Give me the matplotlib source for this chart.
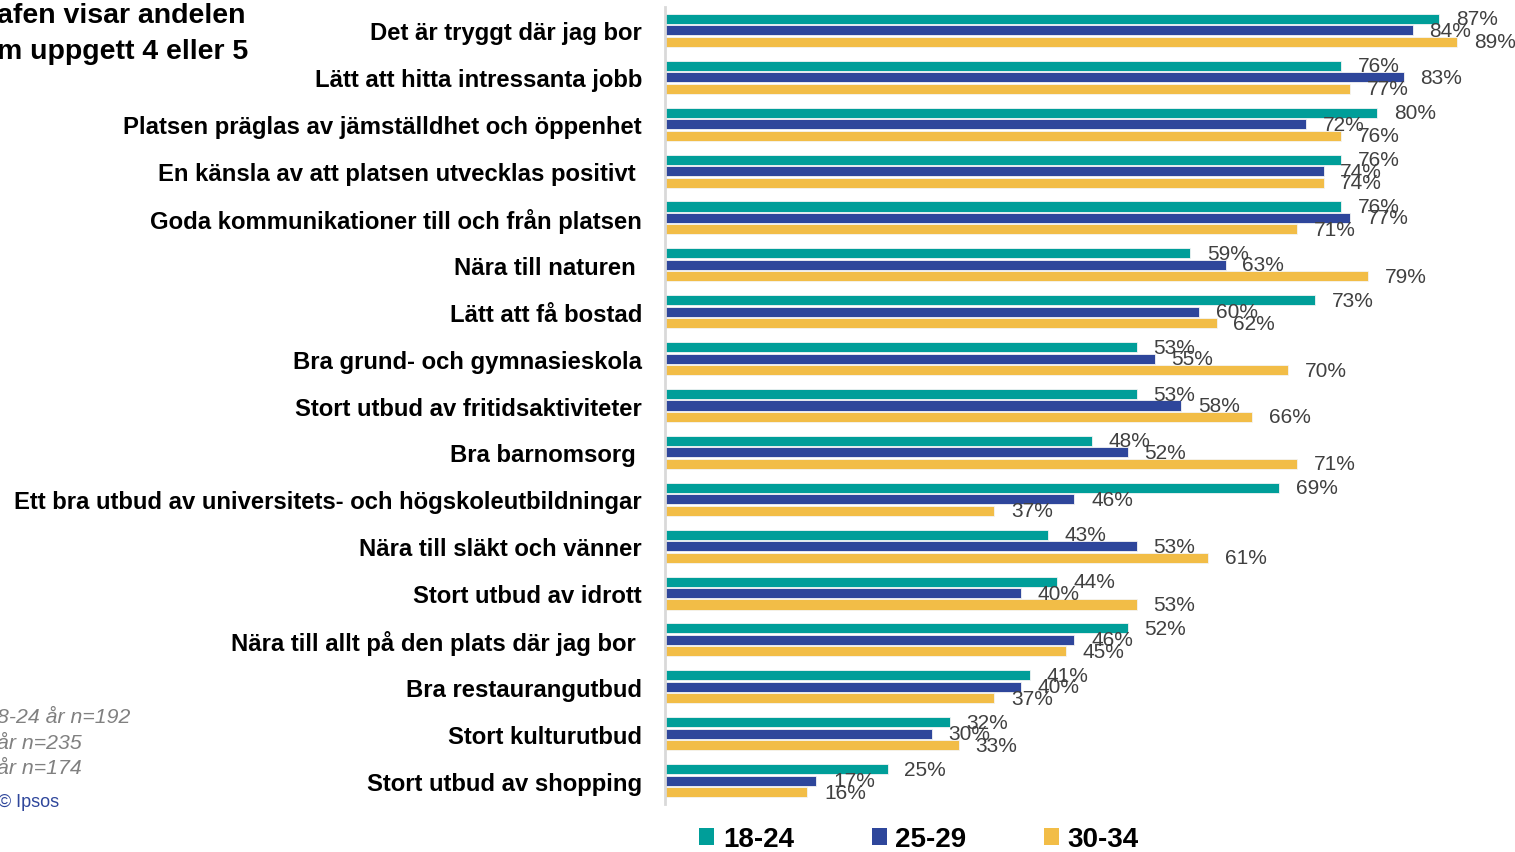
import matplotlib
matplotlib.use("Agg")
import matplotlib.pyplot as plt
import numpy as np
from matplotlib.patches import Patch

categories = [
    "Det är tryggt där jag bor",
    "Lätt att hitta intressanta jobb",
    "Platsen präglas av jämställdhet och öppenhet",
    "En känsla av att platsen utvecklas positivt ",
    "Goda kommunikationer till och från platsen",
    "Nära till naturen ",
    "Lätt att få bostad",
    "Bra grund- och gymnasieskola",
    "Stort utbud av fritidsaktiviteter",
    "Bra barnomsorg ",
    "Ett bra utbud av universitets- och högskoleutbildningar",
    "Nära till släkt och vänner",
    "Stort utbud av idrott",
    "Nära till allt på den plats där jag bor ",
    "Bra restaurangutbud",
    "Stort kulturutbud",
    "Stort utbud av shopping",
]
series_names = ["18-24", "25-29", "30-34"]
v_18_24 = [87, 76, 80, 76, 76, 59, 73, 53, 53, 48, 69, 43, 44, 52, 41, 32, 25]
v_25_29 = [84, 83, 72, 74, 77, 63, 60, 55, 58, 52, 46, 53, 40, 46, 40, 30, 17]
v_30_34 = [89, 77, 76, 74, 71, 79, 62, 70, 66, 71, 37, 61, 53, 45, 37, 33, 16]
title_lines = ["afen visar andelen", "m uppgett 4 eller 5"]
note_lines = ["8-24 år n=192", "år n=235", "år n=174"]
source_text = "© Ipsos"

colors = ["#009E99", "#2E469B", "#F2BD47"]

plt.rcParams['font.family'] = ['Liberation Sans', 'DejaVu Sans']

fig = plt.figure(figsize=(15.15, 8.53), dpi=100)
ax = fig.add_axes([665/1515, 1-805/853, 1-665/1515, (805-8)/853])

y = np.arange(len(categories))
step = 0.245
h = 0.215
for i, (vals, col, name) in enumerate(zip([v_18_24, v_25_29, v_30_34], colors, series_names)):
    bars = ax.barh(y + (i - 1) * step, vals, height=h, color=col, edgecolor="#F4F4F4",
                   linewidth=0.6, label=name)
    ax.bar_label(bars, labels=[f"{v}%" for v in vals], padding=12, fontsize=15,
                 color="#404040")

ax.set_ylim(len(categories) - 0.5, -0.5)
ax.set_xlim(0, 95.5)
ax.set_yticks(y)
ax.set_yticklabels(categories, fontsize=17.2, fontweight="bold", color="#000000")
ax.tick_params(axis="y", length=0, pad=16.5)
ax.set_xticks([])
for s in ["top", "right", "bottom"]:
    ax.spines[s].set_visible(False)
ax.spines["left"].set_color("#D9D9D9")
ax.spines["left"].set_linewidth(2)

# Title (partially cropped at the left)
fig.text(-0.002, 1-16/853, title_lines[0], fontsize=20.5, fontweight="bold",
         va="center", ha="left", color="#000000")
fig.text(-0.002, 1-52/853, title_lines[1], fontsize=20.5, fontweight="bold",
         va="center", ha="left", color="#000000")

for k, line in enumerate(note_lines):
    fig.text(-0.002, 1-(718 + 25.5*k)/853, line, fontsize=15.3, style="italic",
             color="#808080", va="center", ha="left")
fig.text(-0.001, 1-803/853, source_text, fontsize=13, color="#2E469B",
         va="center", ha="left")

handles = [Patch(facecolor=c, edgecolor="none") for c in colors]
fig.legend(handles, series_names, loc="center", bbox_to_anchor=(919/1515, 1-840/853),
           ncol=3, frameon=False, prop={"weight": "bold", "size": 20},
           handlelength=0.55, handleheight=0.55, handletextpad=0.3, columnspacing=2.8,
           borderaxespad=0, borderpad=0)

fig.savefig("out.png", dpi=100)
